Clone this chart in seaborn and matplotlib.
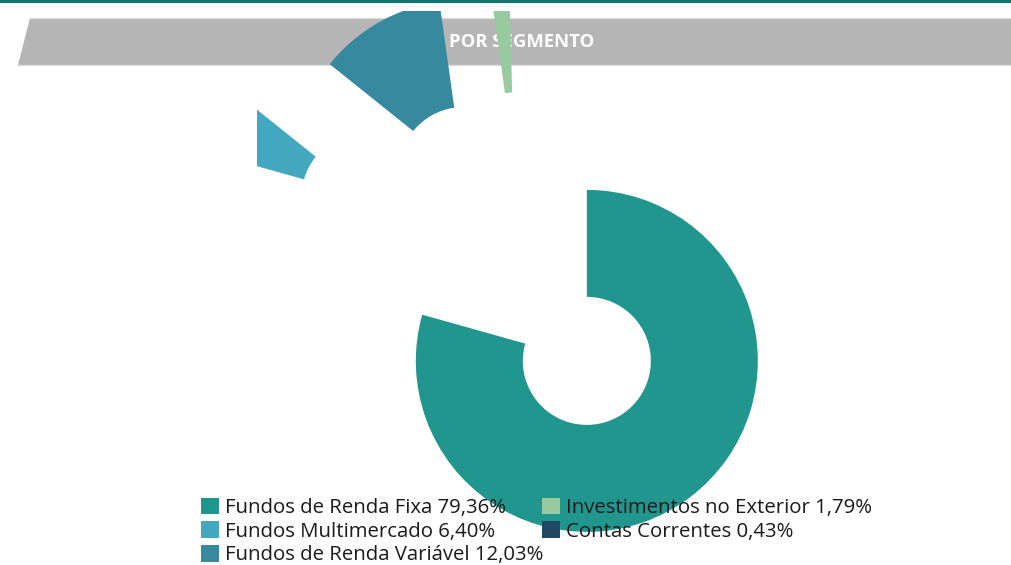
import matplotlib
matplotlib.use("Agg")
import matplotlib.pyplot as plt
import seaborn as sns
from matplotlib.patches import Polygon, Rectangle

# ---- data ----
categories = ["Fundos de Renda Fixa", "Fundos Multimercado", "Fundos de Renda Variável",
              "Investimentos no Exterior", "Contas Correntes"]
shares = [79.36, 6.40, 12.03, 1.79, 0.43]
title = "POR SEGMENTO"

# ---- style ----
colors = ["#21968f", "#44a8c0", "#37899f", "#98caa0", "#1f4963"]
explode_px = [104, 178, 123, 122, 320]

sns.set_theme(style="white")
plt.rcParams["font.family"] = ["Open Sans", "DejaVu Sans"]

W, H = 1011, 565
fig = plt.figure(figsize=(W / 100, H / 100), dpi=100)
fig.patch.set_facecolor("white")

# background layer (pixel coordinates)
bg = fig.add_axes([0, 0, 1, 1], zorder=0)
bg.set_xlim(0, W)
bg.set_ylim(H, 0)
bg.axis("off")
bg.add_patch(Rectangle((0, 0), W, 2.5, color="#0c766e", lw=0))
bg.add_patch(Polygon([(30, 18), (W, 18), (W, 65), (18, 65)], closed=True,
                     facecolor="#b5b5b5", edgecolor="none"))
bg.plot([30, W], [18, 18], color="#dcdcdc", lw=1.0)
bg.plot([18, W], [65, 65], color="#dcdcdc", lw=1.0)
bg.text(522, 42, title, color="white", fontsize=13.3, fontweight="bold",
        ha="center", va="center")

# pie layer
L, T, S = 257, 11, 534
ax = fig.add_axes([L / W, (H - T - S) / H, S / W, S / H], zorder=2)
ax.patch.set_alpha(0)
wedges, _ = ax.pie(shares, explode=explode_px, colors=colors, startangle=90,
                   counterclock=False, radius=171,
                   wedgeprops=dict(width=107, linewidth=0), frame=False)
for w in wedges:
    w.set_clip_on(True)
    w.set_clip_path(ax.patch)
ax.set_xlim(-S / 2, S / 2)
ax.set_ylim(-S / 2, S / 2)
ax.set_aspect("equal")
ax.axis("off")

labels = [f"{c} {v:.2f}%".replace(".", ",") for c, v in zip(categories, shares)]
leg = ax.legend(wedges, labels, ncol=2, loc="upper left",
                bbox_to_anchor=(201 / W, 1 - 497.5 / H), bbox_transform=fig.transFigure,
                frameon=False, fontsize=14.7, handlelength=0.88, handleheight=0.85,
                handletextpad=0.3, columnspacing=-0.08, labelspacing=0.18,
                borderpad=0, borderaxespad=0)
for t in leg.get_texts():
    t.set_color("#1a1a1a")

fig.savefig("out.png", dpi=100)
